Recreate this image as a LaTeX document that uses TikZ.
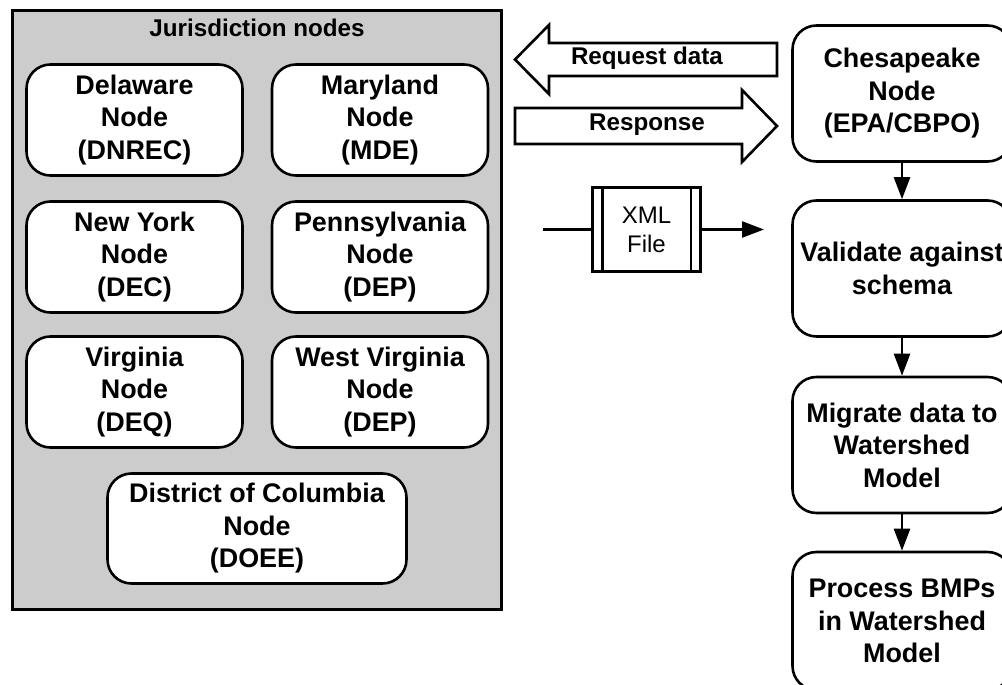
\documentclass[tikz,border=0pt]{standalone}
\usepackage{fontspec}
\setmainfont{Liberation Sans}
\usetikzlibrary{arrows.meta}
\begin{document}
\begin{tikzpicture}[x=1pt,y=-1pt,
  boxtext/.style={font=\fontsize{26.9}{32.5}\selectfont\bfseries, align=center},
  rbox/.style={draw=black, line width=2.6pt, fill=white, rounded corners=24pt, boxtext, inner sep=0pt},
  jbox/.style={rbox, minimum width=216pt, minimum height=111pt},
  cbox/.style={rbox, minimum width=219pt, minimum height=136pt},
  flow/.style={line width=2.4pt, -{Triangle[length=22pt,width=16pt]}},
  bigarrow/.style={draw=black, line width=2.6pt, fill=white, line join=miter},
  smalltext/.style={font=\fontsize{24.2}{29}\selectfont\bfseries, inner sep=0pt},
  xmlbox/.style={draw=black, line width=2.4pt, fill=white, minimum width=108pt, minimum height=84pt, inner sep=0pt, align=center, font=\fontsize{24}{29}\selectfont}
]
\path[use as bounding box] (0,0) rectangle (1002,685);
\clip (0,0) rectangle (1002,685);

% jurisdiction container
\node[draw=black, line width=2.8pt, fill=black!20, minimum width=489pt, minimum height=599pt, inner sep=0pt] (juris) at (257,310) {};
\node[smalltext] (jtitle) at (257,28) {Jurisdiction nodes};

\node[jbox] (de) at (134.5,120) {Delaware\\Node\\(DNREC)};
\node[jbox] (md) at (380,120) {Maryland\\Node\\(MDE)};
\node[jbox] (ny) at (134.5,257) {New York\\Node\\(DEC)};
\node[jbox] (pa) at (380,257) {Pennsylvania\\Node\\(DEP)};
\node[jbox] (va) at (134.5,392) {Virginia\\Node\\(DEQ)};
\node[jbox] (wv) at (380,392) {West Virginia\\Node\\(DEP)};
\node[rbox, minimum width=299pt, minimum height=110pt] (dc) at (257,528.5) {District of Columbia\\Node\\(DOEE)};

% Chesapeake column
\node[cbox] (cb) at (902,93.5) {Chesapeake\\Node\\(EPA/CBPO)};
\node[cbox] (val) at (902,268.5) {Validate against\\schema};
\node[cbox] (mig) at (902,445) {Migrate data to\\Watershed\\Model};
\node[cbox, minimum height=138pt] (proc) at (902,621) {Process BMPs\\in Watershed\\Model};

\draw[flow] (cb) -- (val);
\draw[flow] (val) -- (mig);
\draw[flow] (mig) -- (proc);

% block arrows
\draw[bigarrow] (777,43) -- (549,43) -- (549,25) -- (515,59.5) -- (549,94) -- (549,76) -- (777,76) -- cycle;
\node[smalltext] (req) at (647,58) {Request data};
\draw[bigarrow] (515,108) -- (742,108) -- (742,90) -- (777,126) -- (742,162) -- (742,144) -- (515,144) -- cycle;
\node[smalltext] (resp) at (647,125) {Response};

% XML file
\node[xmlbox] (xml) at (646.5,229.5) {XML\\File};
\draw[line width=2.4pt] ([xshift=11pt]xml.north west) -- ([xshift=11pt]xml.south west);
\draw[line width=2.4pt] ([xshift=-11pt]xml.north east) -- ([xshift=-11pt]xml.south east);
\coordinate (xin) at (543,229.5);
\coordinate (xout) at (764,229.5);
\draw[line width=2.4pt] (xin) -- (xml.west);
\draw[flow] (xml.east) -- (xout);
\end{tikzpicture}
\end{document}
